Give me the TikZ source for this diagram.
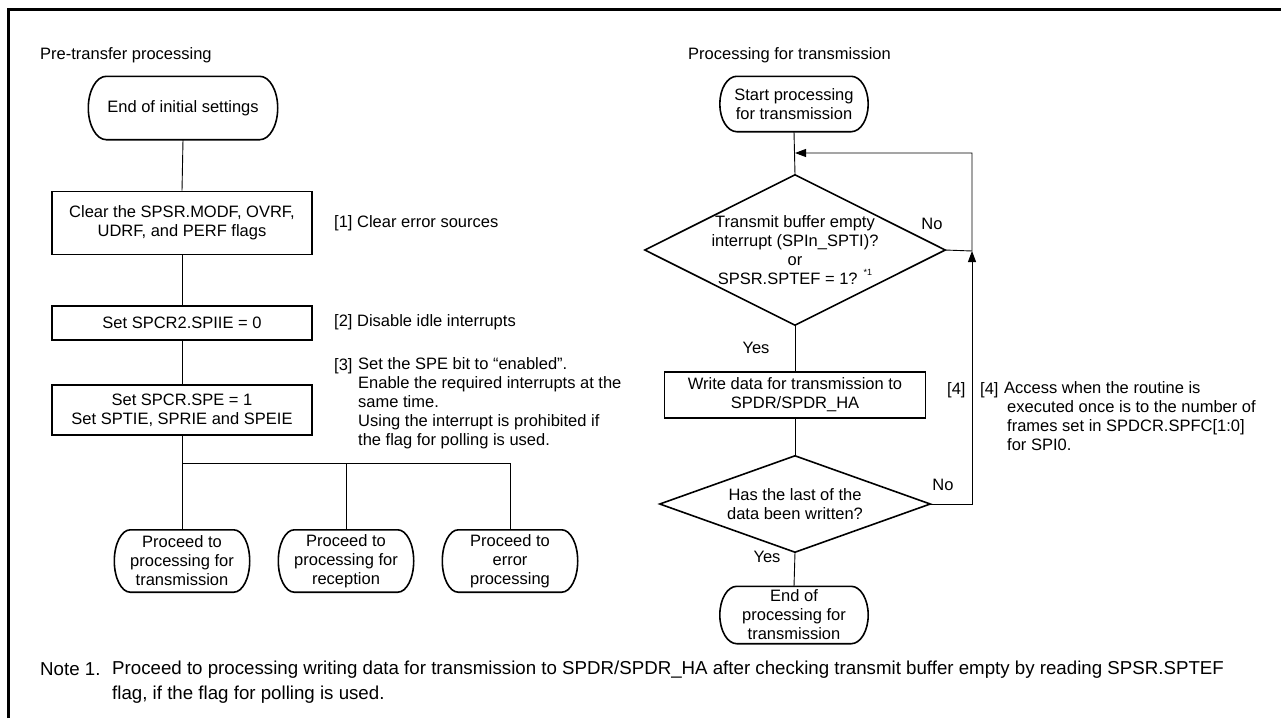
\documentclass[tikz,border=0pt]{standalone}
\usepackage{fontspec}
\setmainfont{Liberation Sans}
\usetikzlibrary{arrows.meta,calc}
\newcommand{\termshape}[2]{% node name, end x-radius
  \draw[termline] let \p1=(#1.north), \p2=(#1.south), \n1={(\y1-\y2)/2} in
    ([xshift=-#2]#1.north east) arc[start angle=90,end angle=-90,x radius=#2,y radius=\n1]
    -- ([xshift=#2]#1.south west) arc[start angle=270,end angle=90,x radius=#2,y radius=\n1]
    -- cycle;}
\begin{document}
\begin{tikzpicture}[x=1pt,y=-1pt,
  every node/.style={font=\fontsize{16.5}{19}\selectfont, inner sep=0pt},
  box/.style={draw, line width=1.6pt, minimum width=260pt, align=center},
  tnode/.style={align=center},
  termline/.style={line width=1.6pt},
  conn/.style={line width=0.9pt},
  arr/.style={conn,-{Triangle[length=11pt,width=8pt]}},
  lbl/.style={anchor=west, align=left},
  blk/.style={anchor=north west, align=left},
  notefont/.style={font=\fontsize{18.7}{25}\selectfont},
]
\useasboundingbox (0,0) rectangle (1281,718);
\draw[line width=3pt] (8,718) -- (8,9) -- (1281,9);

% ---------- left: pre-transfer processing
\node[anchor=west] (h1) at (40,55) {Pre-transfer processing};
\node[tnode, minimum width=189pt, minimum height=63pt] (t1) at (183,108) {End of initial settings};
\node[box, minimum height=63pt] (b1) at (182,223) {Clear the SPSR.MODF, OVRF,\\UDRF, and PERF flags};
\node[lbl] (n1) at (334,223) {[1] Clear error sources};
\node[box, minimum height=34pt] (b2) at (182,323) {Set SPCR2.SPIIE = 0};
\node[lbl] (n2) at (334,322) {[2] Disable idle interrupts};
\node[box, minimum height=50pt] (b3) at (182,410) {Set SPCR.SPE = 1\\Set SPTIE, SPRIE and SPEIE};
\node[lbl] (n3a) at (334,366) {[3]};
\node[blk] (n3) at (358,357) {Set the SPE bit to “enabled”.\\Enable the required interrupts at the\\same time.\\Using the interrupt is prohibited if\\the flag for polling is used.};

\node[tnode, minimum width=135pt, minimum height=62pt] (p1) at (182,561) {Proceed to\\processing for\\transmission};
\node[tnode, minimum width=135pt, minimum height=62pt] (p2) at (346,561) {Proceed to\\processing for\\reception};
\node[tnode, minimum width=135pt, minimum height=62pt] (p3) at (510,561) {Proceed to\\error\\processing};

\coordinate (bl) at (182,463);
\coordinate (bm) at (346,463);
\coordinate (br) at (510,463);

\draw[conn] (t1.south) -- (b1.north);
\draw[conn] (b1.south) -- (b2.north);
\draw[conn] (b2.south) -- (b3.north);
\draw[conn] (b3.south) -- (bl);
\draw[conn] (bl) -- (br);
\draw[conn] (bl) -- (p1.north);
\draw[conn] (bm) -- (p2.north);
\draw[conn] (br) -- (p3.north);

% ---------- right: processing for transmission
\node[anchor=west] (h2) at (688,55) {Processing for transmission};
\node[tnode, minimum width=148pt, minimum height=55pt] (s) at (794,104) {Start processing\\for transmission};
\node[minimum width=300pt, minimum height=150pt, align=center] (d1) at (795,250)
  {Transmit buffer empty\\interrupt (SPIn\_SPTI)?\\or\\SPSR.SPTEF = 1? \raisebox{0.55em}{\fontsize{9}{9}\selectfont *1}};
\node[box, minimum width=261pt, minimum height=46pt] (w) at (795,395) {Write data for transmission to\\SPDR/SPDR\_HA};
\node[minimum width=270pt, minimum height=96pt, align=center] (d2) at (795,504) {Has the last of the\\data been written?};
\node[tnode, minimum width=148pt, minimum height=57pt] (e) at (794,615) {End of\\processing for\\transmission};

\draw[termline] (d1.north) -- (d1.east) -- (d1.south) -- (d1.west) -- cycle;
\draw[termline] (d2.north) -- (d2.east) -- (d2.south) -- (d2.west) -- cycle;

\coordinate (m1) at (795,153);
\coordinate (c1) at (972,251);
\coordinate (c2) at (972,153);
\coordinate (c3) at (972,504);

\draw[conn] (s.south) -- (d1.north);
\draw[arr] (d1.east) -- (c1) -- (c2) -- (m1);
\draw[conn] (d1.south) -- (w.north);
\draw[conn] (w.south) -- (d2.north);
\draw[arr] (d2.east) -- (c3) -- (c1);
\draw[conn] (d2.south) -- (e.north);

\node (no1) at (932,224) {No};
\node (yes1) at (756,348) {Yes};
\node (no2) at (943,485) {No};
\node (yes2) at (767,557) {Yes};
\node[lbl] (r4a) at (947,390) {[4]};
\node[lbl] (r4b) at (980,390) {[4]};
\node[blk] (r4) at (1004,381) {Access when the routine is\\\hspace*{3pt}executed once is to the number of\\\hspace*{3pt}frames set in SPDCR.SPFC[1:0]\\\hspace*{3pt}for SPI0.};

% ---------- note
\node[anchor=base west, notefont] (nt) at (40,675) {Note 1.};
\node[blk, notefont] (ntx) at (112,661) {Proceed to processing writing data for transmission to SPDR/SPDR\_HA after checking transmit buffer empty by reading SPSR.SPTEF\\flag, if the flag for polling is used.};

\termshape{t1}{18pt}
\termshape{p1}{16pt}
\termshape{p2}{16pt}
\termshape{p3}{16pt}
\termshape{s}{17pt}
\termshape{e}{17pt}
\end{tikzpicture}
\end{document}
